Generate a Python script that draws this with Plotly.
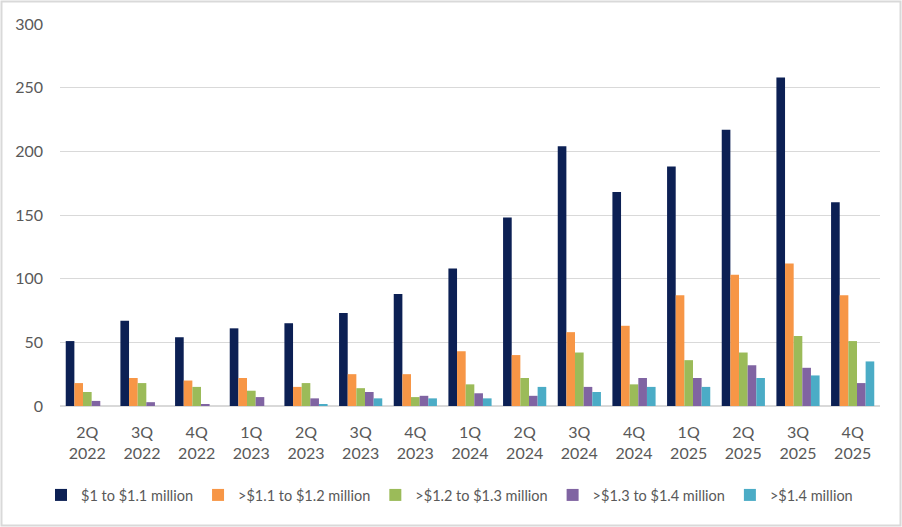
import plotly.graph_objects as go

quarters = ["2Q<br>2022", "3Q<br>2022", "4Q<br>2022", "1Q<br>2023", "2Q<br>2023", "3Q<br>2023", "4Q<br>2023",
            "1Q<br>2024", "2Q<br>2024", "3Q<br>2024", "4Q<br>2024", "1Q<br>2025", "2Q<br>2025", "3Q<br>2025", "4Q<br>2025"]

s_1_11 = [51, 67, 54, 61, 65, 73, 88, 108, 148, 204, 168, 188, 217, 258, 160]
s_11_12 = [18, 22, 20, 22, 15, 25, 25, 43, 40, 58, 63, 87, 103, 112, 87]
s_12_13 = [11, 18, 15, 12, 18, 14, 7, 17, 22, 42, 17, 36, 42, 55, 51]
s_13_14 = [4, 3, 1, 7, 6, 11, 8, 10, 8, 15, 22, 22, 32, 30, 18]
s_14 = [0, 0, 0, 0, 1, 6, 6, 6, 15, 11, 15, 15, 22, 24, 35]

names = ["$1 to $1.1 million", ">$1.1 to $1.2 million", ">$1.2 to $1.3 million",
         ">$1.3 to $1.4 million", ">$1.4 million"]
colors = ["#0C2054", "#F79646", "#9BBB59", "#8064A2", "#4BACC6"]
series = [s_1_11, s_11_12, s_12_13, s_13_14, s_14]

fig = go.Figure()
for n, c, s in zip(names, colors, series):
    fig.add_trace(go.Bar(x=quarters, y=s, name=n, marker=dict(color=c, line=dict(width=0))))

L, R, T, B = 60, 22, 24, 121
W, H = 902, 527
pw, ph = W - L - R, H - T - B

fig.update_layout(
    width=W, height=H,
    margin=dict(l=L, r=R, t=T, b=B, autoexpand=False),
    paper_bgcolor="white", plot_bgcolor="white",
    barmode="group", bargap=0.21, bargroupgap=0.0,
    font=dict(family="Lato, Open Sans, sans-serif", size=16, color="#595959"),
    yaxis=dict(range=[0, 300], dtick=50, showgrid=True, gridcolor="#D9D9D9", gridwidth=1,
               zeroline=True, zerolinecolor="#D9D9D9", zerolinewidth=2, showline=False,
               ticks="", ticklabelstandoff=16, fixedrange=True, automargin=False),
    xaxis=dict(showgrid=False, showline=False, ticks="", tickfont=dict(size=16),
               ticklabelstandoff=15, automargin=False),
    legend=dict(orientation="h", x=(41 - L) / pw, xanchor="left", y=(T + ph - 495) / ph, yanchor="middle",
                font=dict(family="Lato, sans-serif", size=14.5, color="#595959"),
                itemwidth=30, traceorder="normal", tracegroupgap=0, bgcolor="rgba(0,0,0,0)"),
    shapes=[dict(type="rect", xref="paper", yref="paper",
                 x0=(1.5 - L) / pw, x1=(W - 1.5 - L) / pw,
                 y0=(T + ph - (H - 1.5)) / ph, y1=(T + ph - 1.5) / ph,
                 line=dict(color="#D9D9D9", width=2), layer="below")],
)

fig.write_html("out.html")
